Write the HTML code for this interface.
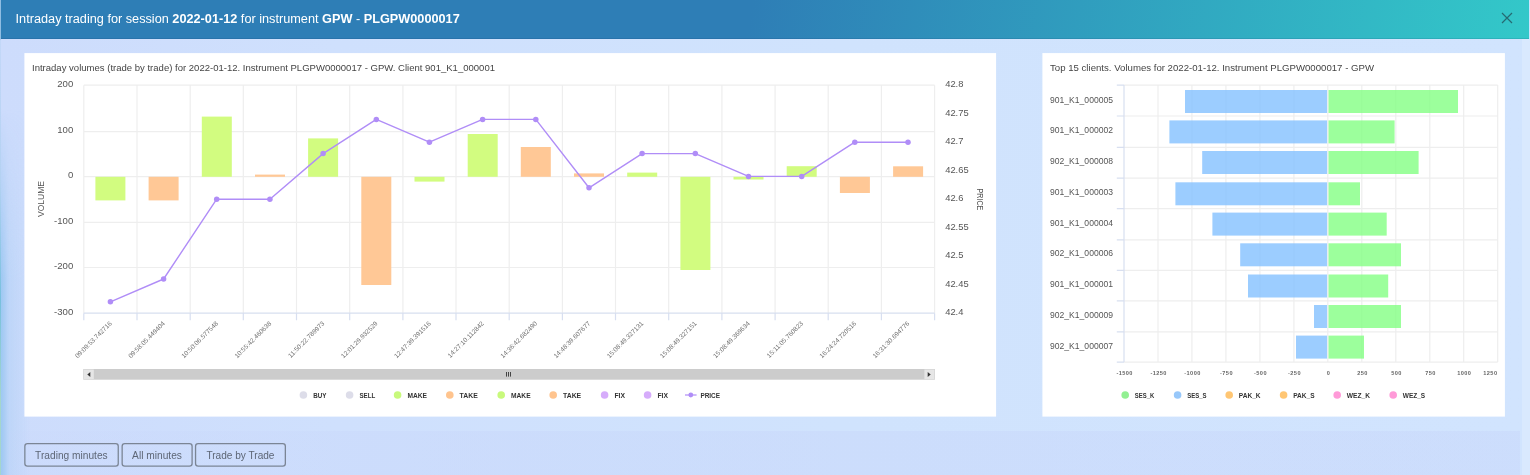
<!DOCTYPE html>
<html lang="en"><head><meta charset="utf-8"><title>Intraday trading</title>
<style>
html,body{margin:0;padding:0}
body{width:1530px;height:475px;overflow:hidden;position:relative;background:#cfe0fc;font-family:"Liberation Sans", sans-serif}
.bg{position:absolute;left:0;top:0;width:1530px;height:475px;background:linear-gradient(90deg,#cddcfc 0%,#cfe0fd 22%,#d0e3fd 55%,#d1e4fe 100%)}
.lg{position:absolute;left:0;top:39px;width:30px;height:436px;background:linear-gradient(90deg,rgba(110,180,232,.55) 0,rgba(150,198,240,.28) 30%,rgba(170,205,245,0) 100%);-webkit-mask-image:linear-gradient(180deg,transparent 0,transparent 70px,#000 240px,#000 100%);mask-image:linear-gradient(180deg,transparent 0,transparent 70px,#000 240px,#000 100%)}
.le{position:absolute;left:0;top:0;width:1px;height:475px;background:linear-gradient(180deg,#8fbde2 0,#8fbde2 39px,#c3d8f8 40px,#b4d2f2 180px,#78c0de 300px,#a4d6cc 400px,#a4d6cc 100%)}
.re{position:absolute;left:1522px;top:39px;width:8px;height:436px;background:rgba(255,255,255,.18)}
.hdr{position:absolute;left:1px;top:0;width:1528px;height:38.6px;box-shadow:inset 0 -1px 0 rgba(0,20,80,.10);background:linear-gradient(100deg,#2e7eb6 0%,#2e7eb6 49%,#33c8c9 100%)}
.ttl{position:absolute;left:15.6px;top:10.6px;font-size:12.71px;line-height:15px;color:#fff;white-space:nowrap}
.ttl b{font-weight:bold}
.x{position:absolute;left:1501px;top:12px;width:12px;height:12px}
.ch{position:absolute;left:0;top:0;display:block}
.foot{position:absolute;left:9px;top:431px;width:1511px;height:44px;background:linear-gradient(90deg,rgba(198,212,250,.12) 0%,rgba(198,212,250,.38) 32%,rgba(198,212,250,.42) 100%)}
.btn{position:absolute;top:443px;height:21px;line-height:21px;border:1.4px solid #7f8897;border-radius:3px;font-size:11px;color:#5b6472;text-align:center;white-space:nowrap}
</style></head><body>
<div class="bg"></div>
<div class="lg"></div>
<div class="le"></div>
<div class="re"></div>
<div class="foot"></div>
<div class="hdr"></div>
<div class="ttl">Intraday trading for session <b>2022-01-12</b> for instrument <b>GPW</b> - <b>PLGPW0000017</b></div>
<svg class="x" viewBox="0 0 12 12"><path d="M1 1L11 11M11 1L1 11" stroke="#266a72" stroke-width="1.2" fill="none"/></svg>
<svg class="ch" width="1530" height="475" viewBox="0 0 1530 475" font-family='"Liberation Sans", sans-serif'>
<rect x="24.4" y="53.1" width="971.7" height="363.5" fill="#fff"/>
<text x="32" y="71" font-size="9.5" fill="#444" textLength="463" lengthAdjust="spacingAndGlyphs">Intraday volumes (trade by trade) for 2022-01-12. Instrument PLGPW0000017 - GPW. Client 901_K1_000001</text>
<path d="M83.8 85.2V313.2M137.0 85.2V313.2M190.2 85.2V313.2M243.3 85.2V313.2M296.5 85.2V313.2M349.7 85.2V313.2M402.9 85.2V313.2M456.0 85.2V313.2M509.2 85.2V313.2M562.4 85.2V313.2M615.5 85.2V313.2M668.7 85.2V313.2M721.9 85.2V313.2M775.1 85.2V313.2M828.2 85.2V313.2M881.4 85.2V313.2M934.6 85.2V313.2M83.8 85.2H934.6M83.8 131.6H934.6M83.8 176.6H934.6M83.8 222.4H934.6M83.8 267.5H934.6" stroke="#eeeeee" stroke-width="1.2" fill="none"/>
<path d="M83.8 313.2H934.6M83.8 313.2V320.2M137.0 313.2V320.2M190.2 313.2V320.2M243.3 313.2V320.2M296.5 313.2V320.2M349.7 313.2V320.2M402.9 313.2V320.2M456.0 313.2V320.2M509.2 313.2V320.2M562.4 313.2V320.2M615.5 313.2V320.2M668.7 313.2V320.2M721.9 313.2V320.2M775.1 313.2V320.2M828.2 313.2V320.2M881.4 313.2V320.2M934.6 313.2V320.2" stroke="#d8dff0" stroke-width="1.2" fill="none"/>
<rect x="95.4" y="176.8" width="30.0" height="23.6" fill="#d2fc80"/>
<rect x="148.6" y="176.8" width="30.0" height="23.6" fill="#ffc896"/>
<rect x="201.8" y="116.6" width="30.0" height="60.2" fill="#d2fc80"/>
<rect x="255.0" y="174.6" width="30.0" height="2.2" fill="#ffc896"/>
<rect x="308.1" y="138.4" width="30.0" height="38.4" fill="#d2fc80"/>
<rect x="361.3" y="176.8" width="30.0" height="108.2" fill="#ffc896"/>
<rect x="414.5" y="176.8" width="30.0" height="4.8" fill="#d2fc80"/>
<rect x="467.7" y="134.0" width="30.0" height="42.8" fill="#d2fc80"/>
<rect x="520.8" y="147.0" width="30.0" height="29.8" fill="#ffc896"/>
<rect x="574.0" y="173.4" width="30.0" height="3.4" fill="#ffc896"/>
<rect x="627.2" y="172.6" width="30.0" height="4.2" fill="#d2fc80"/>
<rect x="680.4" y="176.8" width="30.0" height="93.2" fill="#d2fc80"/>
<rect x="733.5" y="176.8" width="30.0" height="2.7" fill="#d2fc80"/>
<rect x="786.7" y="166.2" width="30.0" height="10.6" fill="#d2fc80"/>
<rect x="839.9" y="176.8" width="30.0" height="16.2" fill="#ffc896"/>
<rect x="893.1" y="166.3" width="30.0" height="10.5" fill="#ffc896"/>
<polyline fill="none" stroke="#b08df7" stroke-width="1.4" stroke-linejoin="round" points="110.4,301.8 163.6,279.0 216.7,199.2 269.9,199.2 323.1,153.6 376.3,119.4 429.4,142.2 482.6,119.4 535.8,119.4 589.0,187.8 642.1,153.6 695.3,153.6 748.5,176.4 801.7,176.4 854.8,142.2 908.0,142.2"/>
<circle cx="110.4" cy="301.8" r="2.75" fill="#b08df7"/>
<circle cx="163.6" cy="279.0" r="2.75" fill="#b08df7"/>
<circle cx="216.7" cy="199.2" r="2.75" fill="#b08df7"/>
<circle cx="269.9" cy="199.2" r="2.75" fill="#b08df7"/>
<circle cx="323.1" cy="153.6" r="2.75" fill="#b08df7"/>
<circle cx="376.3" cy="119.4" r="2.75" fill="#b08df7"/>
<circle cx="429.4" cy="142.2" r="2.75" fill="#b08df7"/>
<circle cx="482.6" cy="119.4" r="2.75" fill="#b08df7"/>
<circle cx="535.8" cy="119.4" r="2.75" fill="#b08df7"/>
<circle cx="589.0" cy="187.8" r="2.75" fill="#b08df7"/>
<circle cx="642.1" cy="153.6" r="2.75" fill="#b08df7"/>
<circle cx="695.3" cy="153.6" r="2.75" fill="#b08df7"/>
<circle cx="748.5" cy="176.4" r="2.75" fill="#b08df7"/>
<circle cx="801.7" cy="176.4" r="2.75" fill="#b08df7"/>
<circle cx="854.8" cy="142.2" r="2.75" fill="#b08df7"/>
<circle cx="908.0" cy="142.2" r="2.75" fill="#b08df7"/>
<text x="73.3" y="87.0" font-size="9.6" fill="#555" text-anchor="end">200</text>
<text x="73.3" y="132.6" font-size="9.6" fill="#555" text-anchor="end">100</text>
<text x="73.3" y="178.2" font-size="9.6" fill="#555" text-anchor="end">0</text>
<text x="73.3" y="223.8" font-size="9.6" fill="#555" text-anchor="end">-100</text>
<text x="73.3" y="269.4" font-size="9.6" fill="#555" text-anchor="end">-200</text>
<text x="73.3" y="315.0" font-size="9.6" fill="#555" text-anchor="end">-300</text>
<text x="945.2" y="87.0" font-size="9.4" fill="#555">42.8</text>
<text x="945.2" y="115.5" font-size="9.4" fill="#555">42.75</text>
<text x="945.2" y="144.0" font-size="9.4" fill="#555">42.7</text>
<text x="945.2" y="172.5" font-size="9.4" fill="#555">42.65</text>
<text x="945.2" y="201.0" font-size="9.4" fill="#555">42.6</text>
<text x="945.2" y="229.5" font-size="9.4" fill="#555">42.55</text>
<text x="945.2" y="258.0" font-size="9.4" fill="#555">42.5</text>
<text x="945.2" y="286.5" font-size="9.4" fill="#555">42.45</text>
<text x="945.2" y="315.0" font-size="9.4" fill="#555">42.4</text>
<text transform="translate(44.2 217) rotate(-90)" font-size="9.4" fill="#555" textLength="36" lengthAdjust="spacingAndGlyphs">VOLUME</text>
<text transform="translate(976.9 188.4) rotate(90)" font-size="9.4" fill="#555" textLength="22" lengthAdjust="spacingAndGlyphs">PRICE</text>
<text transform="translate(112.2 324) rotate(-45)" font-size="6.5" fill="#707070" text-anchor="end">09:09:53.742716</text>
<text transform="translate(165.4 324) rotate(-45)" font-size="6.5" fill="#707070" text-anchor="end">09:58:05.449404</text>
<text transform="translate(218.5 324) rotate(-45)" font-size="6.5" fill="#707070" text-anchor="end">10:50:06.577548</text>
<text transform="translate(271.7 324) rotate(-45)" font-size="6.5" fill="#707070" text-anchor="end">10:55:42.460638</text>
<text transform="translate(324.9 324) rotate(-45)" font-size="6.5" fill="#707070" text-anchor="end">11:50:22.789973</text>
<text transform="translate(378.1 324) rotate(-45)" font-size="6.5" fill="#707070" text-anchor="end">12:01:29.932529</text>
<text transform="translate(431.2 324) rotate(-45)" font-size="6.5" fill="#707070" text-anchor="end">12:47:39.391516</text>
<text transform="translate(484.4 324) rotate(-45)" font-size="6.5" fill="#707070" text-anchor="end">14:27:10.112842</text>
<text transform="translate(537.6 324) rotate(-45)" font-size="6.5" fill="#707070" text-anchor="end">14:36:42.682490</text>
<text transform="translate(590.8 324) rotate(-45)" font-size="6.5" fill="#707070" text-anchor="end">14:48:39.607677</text>
<text transform="translate(643.9 324) rotate(-45)" font-size="6.5" fill="#707070" text-anchor="end">15:08:49.327131</text>
<text transform="translate(697.1 324) rotate(-45)" font-size="6.5" fill="#707070" text-anchor="end">15:08:49.327151</text>
<text transform="translate(750.3 324) rotate(-45)" font-size="6.5" fill="#707070" text-anchor="end">15:08:49.369634</text>
<text transform="translate(803.5 324) rotate(-45)" font-size="6.5" fill="#707070" text-anchor="end">15:11:05.760823</text>
<text transform="translate(856.6 324) rotate(-45)" font-size="6.5" fill="#707070" text-anchor="end">16:24:24.720516</text>
<text transform="translate(909.8 324) rotate(-45)" font-size="6.5" fill="#707070" text-anchor="end">16:31:30.694776</text>
<rect x="83.3" y="369" width="851.6" height="10.7" fill="#cccccc"/>
<rect x="83.8" y="369.5" width="10" height="9.7" fill="#e6e6e6"/>
<rect x="924.4" y="369.5" width="10" height="9.7" fill="#e6e6e6"/>
<path d="M90.3 372 L90.3 377 L87.3 374.5Z" fill="#333"/>
<path d="M927.7 372 L927.7 377 L930.7 374.5Z" fill="#333"/>
<path d="M506.5 372V376.6M508.5 372V376.6M510.5 372V376.6" stroke="#444" stroke-width="1"/>
<circle cx="303.4" cy="395" r="3.8" fill="#dddde9"/>
<text x="313.2" y="397.7" font-size="7.4" font-weight="bold" fill="#333" textLength="13.2" lengthAdjust="spacingAndGlyphs">BUY</text>
<circle cx="349.6" cy="395" r="3.8" fill="#dddde9"/>
<text x="359.4" y="397.7" font-size="7.4" font-weight="bold" fill="#333" textLength="15.8" lengthAdjust="spacingAndGlyphs">SELL</text>
<circle cx="397.6" cy="395" r="3.8" fill="#c8f97c"/>
<text x="407.4" y="397.7" font-size="7.4" font-weight="bold" fill="#333" textLength="19.6" lengthAdjust="spacingAndGlyphs">MAKE</text>
<circle cx="449.8" cy="395" r="3.8" fill="#ffc48e"/>
<text x="459.6" y="397.7" font-size="7.4" font-weight="bold" fill="#333" textLength="18.2" lengthAdjust="spacingAndGlyphs">TAKE</text>
<circle cx="501.2" cy="395" r="3.8" fill="#c8f97c"/>
<text x="511.0" y="397.7" font-size="7.4" font-weight="bold" fill="#333" textLength="19.6" lengthAdjust="spacingAndGlyphs">MAKE</text>
<circle cx="553.2" cy="395" r="3.8" fill="#ffc48e"/>
<text x="563.0" y="397.7" font-size="7.4" font-weight="bold" fill="#333" textLength="18.2" lengthAdjust="spacingAndGlyphs">TAKE</text>
<circle cx="604.6" cy="395" r="3.8" fill="#d6acfb"/>
<text x="614.4" y="397.7" font-size="7.4" font-weight="bold" fill="#333" textLength="10.6" lengthAdjust="spacingAndGlyphs">FIX</text>
<circle cx="647.6" cy="395" r="3.8" fill="#d6acfb"/>
<text x="657.4" y="397.7" font-size="7.4" font-weight="bold" fill="#333" textLength="10.6" lengthAdjust="spacingAndGlyphs">FIX</text>
<path d="M685 395H696.6" stroke="#b08df7" stroke-width="1.2"/><circle cx="690.8" cy="395" r="2.4" fill="#b08df7"/>
<text x="700.4" y="397.7" font-size="7.4" font-weight="bold" fill="#333" textLength="19.6" lengthAdjust="spacingAndGlyphs">PRICE</text>
<rect x="1042.4" y="53.1" width="462.5" height="363.5" fill="#fff"/>
<text x="1050" y="71" font-size="9.5" fill="#444" textLength="324" lengthAdjust="spacingAndGlyphs">Top 15 clients. Volumes for 2022-01-12. Instrument PLGPW0000017 - GPW</text>
<path d="M1158.0 85.1V362.1M1191.9 85.1V362.1M1225.9 85.1V362.1M1259.9 85.1V362.1M1293.9 85.1V362.1M1327.8 85.1V362.1M1361.8 85.1V362.1M1395.8 85.1V362.1M1429.8 85.1V362.1M1463.7 85.1V362.1M1497.7 85.1V362.1M1124.0 85.1H1497.7M1124.0 116.0H1497.7M1124.0 147.3H1497.7M1124.0 178.1H1497.7M1124.0 208.6H1497.7M1124.0 239.9H1497.7M1124.0 270.4H1497.7M1124.0 300.8H1497.7M1124.0 331.9H1497.7M1124.0 362.1H1497.7" stroke="#eeeeee" stroke-width="1.2" fill="none"/>
<path d="M1124.0 85.1V362.1M1116.8 85.1H1124.0M1116.8 116.0H1124.0M1116.8 147.3H1124.0M1116.8 178.1H1124.0M1116.8 208.6H1124.0M1116.8 239.9H1124.0M1116.8 270.4H1124.0M1116.8 300.8H1124.0M1116.8 331.9H1124.0M1116.8 362.1H1124.0" stroke="#d8dff0" stroke-width="1.2" fill="none"/>
<rect x="1185.0" y="90.0" width="142.1" height="23" fill="#80bfff" fill-opacity="0.78"/>
<rect x="1328.5" y="90.0" width="129.5" height="23" fill="#80ff80" fill-opacity="0.78"/>
<text x="1050" y="102.5" font-size="9.2" fill="#555" textLength="63" lengthAdjust="spacingAndGlyphs">901_K1_000005</text>
<rect x="1169.4" y="120.4" width="157.7" height="23" fill="#80bfff" fill-opacity="0.78"/>
<rect x="1328.5" y="120.4" width="66.1" height="23" fill="#80ff80" fill-opacity="0.78"/>
<text x="1050" y="133.3" font-size="9.2" fill="#555" textLength="63" lengthAdjust="spacingAndGlyphs">901_K1_000002</text>
<rect x="1202.2" y="151.0" width="124.9" height="23" fill="#80bfff" fill-opacity="0.78"/>
<rect x="1328.5" y="151.0" width="90.1" height="23" fill="#80ff80" fill-opacity="0.78"/>
<text x="1050" y="164.0" font-size="9.2" fill="#555" textLength="63" lengthAdjust="spacingAndGlyphs">902_K1_000008</text>
<rect x="1175.4" y="182.3" width="151.7" height="23" fill="#80bfff" fill-opacity="0.78"/>
<rect x="1328.5" y="182.3" width="31.5" height="23" fill="#80ff80" fill-opacity="0.78"/>
<text x="1050" y="194.8" font-size="9.2" fill="#555" textLength="63" lengthAdjust="spacingAndGlyphs">901_K1_000003</text>
<rect x="1212.4" y="212.6" width="114.7" height="23" fill="#80bfff" fill-opacity="0.78"/>
<rect x="1328.5" y="212.6" width="58.2" height="23" fill="#80ff80" fill-opacity="0.78"/>
<text x="1050" y="225.6" font-size="9.2" fill="#555" textLength="63" lengthAdjust="spacingAndGlyphs">901_K1_000004</text>
<rect x="1240.2" y="243.3" width="86.9" height="23" fill="#80bfff" fill-opacity="0.78"/>
<rect x="1328.5" y="243.3" width="72.5" height="23" fill="#80ff80" fill-opacity="0.78"/>
<text x="1050" y="256.4" font-size="9.2" fill="#555" textLength="63" lengthAdjust="spacingAndGlyphs">902_K1_000006</text>
<rect x="1248.0" y="274.5" width="79.1" height="23" fill="#80bfff" fill-opacity="0.78"/>
<rect x="1328.5" y="274.5" width="59.7" height="23" fill="#80ff80" fill-opacity="0.78"/>
<text x="1050" y="287.2" font-size="9.2" fill="#555" textLength="63" lengthAdjust="spacingAndGlyphs">901_K1_000001</text>
<rect x="1314.0" y="305.0" width="13.1" height="23" fill="#80bfff" fill-opacity="0.78"/>
<rect x="1328.5" y="305.0" width="72.5" height="23" fill="#80ff80" fill-opacity="0.78"/>
<text x="1050" y="317.9" font-size="9.2" fill="#555" textLength="63" lengthAdjust="spacingAndGlyphs">902_K1_000009</text>
<rect x="1296.0" y="335.6" width="31.1" height="23" fill="#80bfff" fill-opacity="0.78"/>
<rect x="1328.5" y="335.6" width="35.5" height="23" fill="#80ff80" fill-opacity="0.78"/>
<text x="1050" y="348.7" font-size="9.2" fill="#555" textLength="63" lengthAdjust="spacingAndGlyphs">902_K1_000007</text>
<text x="1124.6" y="375.4" font-size="5.6" font-weight="bold" letter-spacing="0.4" fill="#666" text-anchor="middle">-1500</text>
<text x="1158.6" y="375.4" font-size="5.6" font-weight="bold" letter-spacing="0.4" fill="#666" text-anchor="middle">-1250</text>
<text x="1192.5" y="375.4" font-size="5.6" font-weight="bold" letter-spacing="0.4" fill="#666" text-anchor="middle">-1000</text>
<text x="1226.5" y="375.4" font-size="5.6" font-weight="bold" letter-spacing="0.4" fill="#666" text-anchor="middle">-750</text>
<text x="1260.5" y="375.4" font-size="5.6" font-weight="bold" letter-spacing="0.4" fill="#666" text-anchor="middle">-500</text>
<text x="1294.5" y="375.4" font-size="5.6" font-weight="bold" letter-spacing="0.4" fill="#666" text-anchor="middle">-250</text>
<text x="1328.4" y="375.4" font-size="5.6" font-weight="bold" letter-spacing="0.4" fill="#666" text-anchor="middle">0</text>
<text x="1362.4" y="375.4" font-size="5.6" font-weight="bold" letter-spacing="0.4" fill="#666" text-anchor="middle">250</text>
<text x="1396.4" y="375.4" font-size="5.6" font-weight="bold" letter-spacing="0.4" fill="#666" text-anchor="middle">500</text>
<text x="1430.4" y="375.4" font-size="5.6" font-weight="bold" letter-spacing="0.4" fill="#666" text-anchor="middle">750</text>
<text x="1464.3" y="375.4" font-size="5.6" font-weight="bold" letter-spacing="0.4" fill="#666" text-anchor="middle">1000</text>
<text x="1497.4" y="375.4" font-size="5.6" font-weight="bold" letter-spacing="0.4" fill="#666" text-anchor="end">1250</text>
<circle cx="1125.2" cy="395" r="3.8" fill="#92f092"/>
<text x="1134.8" y="397.7" font-size="7.4" font-weight="bold" fill="#333" textLength="19.4" lengthAdjust="spacingAndGlyphs">SES_K</text>
<circle cx="1177.6" cy="395" r="3.8" fill="#98c8fa"/>
<text x="1187.2" y="397.7" font-size="7.4" font-weight="bold" fill="#333" textLength="19.4" lengthAdjust="spacingAndGlyphs">SES_S</text>
<circle cx="1229.2" cy="395" r="3.8" fill="#ffc673"/>
<text x="1238.8" y="397.7" font-size="7.4" font-weight="bold" fill="#333" textLength="21.8" lengthAdjust="spacingAndGlyphs">PAK_K</text>
<circle cx="1283.6" cy="395" r="3.8" fill="#ffc673"/>
<text x="1293.2" y="397.7" font-size="7.4" font-weight="bold" fill="#333" textLength="21.4" lengthAdjust="spacingAndGlyphs">PAK_S</text>
<circle cx="1337.2" cy="395" r="3.8" fill="#ff9ad8"/>
<text x="1346.8" y="397.7" font-size="7.4" font-weight="bold" fill="#333" textLength="23.2" lengthAdjust="spacingAndGlyphs">WEZ_K</text>
<circle cx="1393.2" cy="395" r="3.8" fill="#ff9ad8"/>
<text x="1402.8" y="397.7" font-size="7.4" font-weight="bold" fill="#333" textLength="22.4" lengthAdjust="spacingAndGlyphs">WEZ_S</text>
<rect x="24.85" y="443.55" width="93.40" height="22.6" rx="2.6" ry="2.6" fill="none" stroke="#7b8595" stroke-width="1.3"/>
<text x="35.1" y="458.9" font-size="10.5" fill="#5d6675" textLength="72.6" lengthAdjust="spacingAndGlyphs">Trading minutes</text>
<rect x="122.15" y="443.55" width="69.95" height="22.6" rx="2.6" ry="2.6" fill="none" stroke="#7b8595" stroke-width="1.3"/>
<text x="132.1" y="458.9" font-size="10.5" fill="#5d6675" textLength="49.8" lengthAdjust="spacingAndGlyphs">All minutes</text>
<rect x="195.55" y="443.55" width="89.80" height="22.6" rx="2.6" ry="2.6" fill="none" stroke="#7b8595" stroke-width="1.3"/>
<text x="206.4" y="458.9" font-size="10.5" fill="#5d6675" textLength="68.1" lengthAdjust="spacingAndGlyphs">Trade by Trade</text>
</svg>
</body></html>
